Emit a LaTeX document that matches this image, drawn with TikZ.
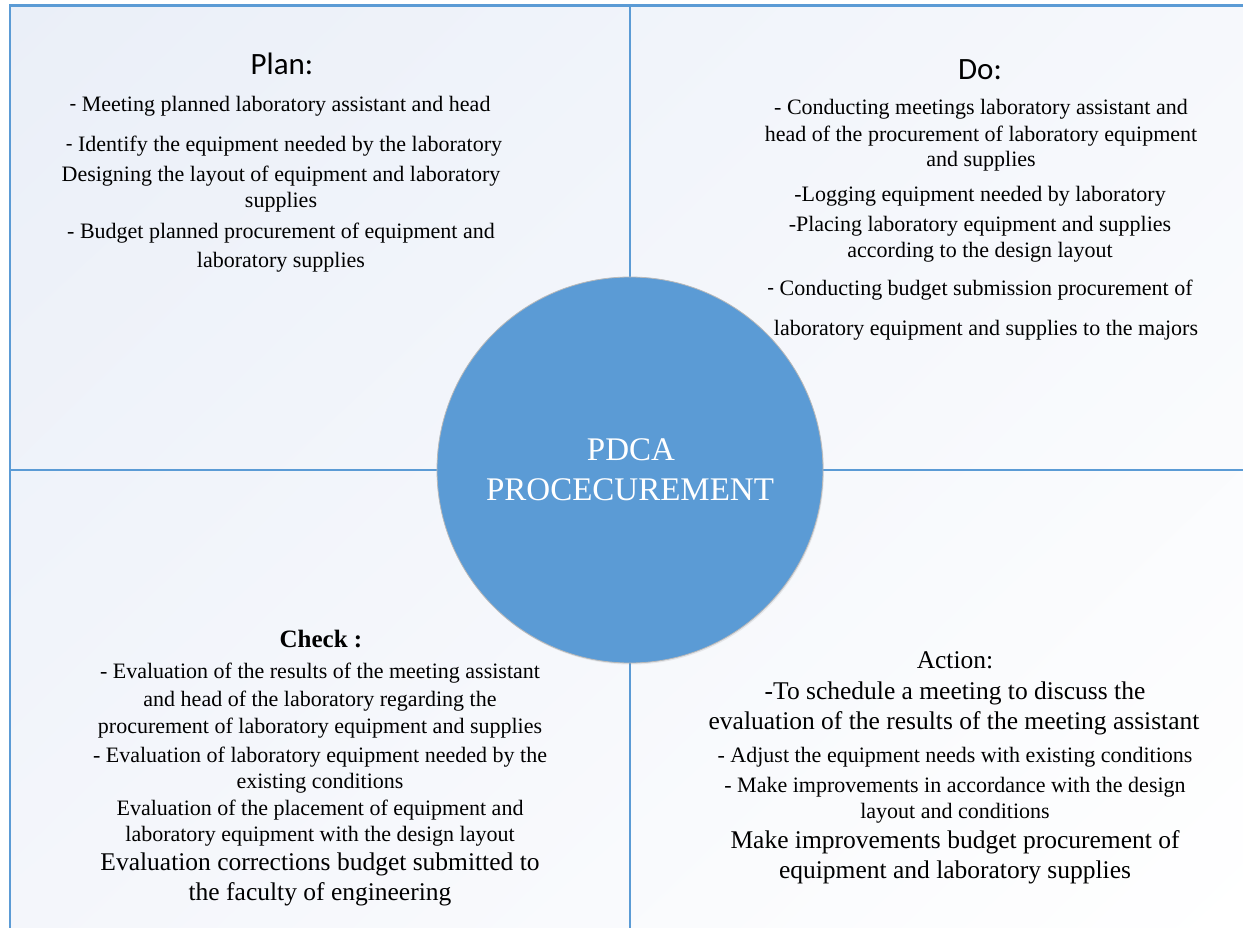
\documentclass[tikz,border=0pt]{standalone}
\usepackage{fontspec}
\setmainfont{Liberation Serif}
\newfontfamily\calibri{Carlito}
\usetikzlibrary{shadows,shadings}
\definecolor{pdcablue}{RGB}{91,155,213}
\definecolor{bgtl}{RGB}{234,239,248}
\definecolor{bgtr}{RGB}{246,248,252}
\definecolor{bgbl}{RGB}{244,246,251}
\tikzset{
  quadline/.style={draw=pdcablue, line width=2.2pt},
  head/.style={font=\calibri\fontsize{31}{36}\selectfont, anchor=base, inner sep=0pt},
  txt/.style={font=\fontsize{22}{26}\selectfont, anchor=base, inner sep=0pt},
  txtbig/.style={font=\fontsize{25.5}{30}\selectfont, anchor=base, inner sep=0pt},
  coretext/.style={font=\fontsize{33}{38}\selectfont, text=white, anchor=base, inner sep=0pt},
}
\begin{document}
\begin{tikzpicture}[x=1pt, y=-1pt]
\useasboundingbox (0,0) rectangle (1243,928);
% background and quadrants
\shade[upper left=bgtl, upper right=bgtr, lower left=bgbl, lower right=white] (10,5.5) rectangle (1243,928);
\draw[quadline] (10,928) -- (10,5.5) -- (1243,5.5);
\draw[quadline] (10,470) -- (1243,470);
\draw[quadline] (630,5.5) -- (630,928);
% centre circle
\node[circle, fill=pdcablue, draw=gray!55, line width=0.8pt, minimum size=386pt, drop shadow={opacity=0.15, shadow xshift=1pt, shadow yshift=-1.5pt}] (core) at (630,470) {};
\node[coretext] (core1) at (631,460) {PDCA};
\node[coretext] (core2) at (630,500) {PROCECUREMENT};
% plan
\node[head] (plan) at (282,75) {Plan:};
\node[txt] (plan1) at (280,112) {{\calibri -} Meeting planned laboratory assistant and head};
\node[txt] (plan2) at (284,152) {{\calibri -} Identify the equipment needed by the laboratory};
\node[txt] (plan3) at (281,182) {Designing the layout of equipment and laboratory};
\node[txt] (plan4) at (281,208) {supplies};
\node[txt] (plan5) at (281,239) {- Budget planned procurement of equipment and};
\node[txt] (plan6) at (281,268) {laboratory supplies};
% do
\node[head] (do) at (980,80) {Do:};
\node[txt] (do1) at (981,115) {- Conducting meetings laboratory assistant and};
\node[txt] (do2) at (981,142) {head of the procurement of laboratory equipment};
\node[txt] (do3) at (981,167) {and supplies};
\node[txt] (do4) at (980,202) {-Logging equipment needed by laboratory};
\node[txt] (do5) at (980,232) {-Placing laboratory equipment and supplies};
\node[txt] (do6) at (980,258) {according to the design layout};
\node[txt] (do7) at (980,295) {{\calibri -} Conducting budget submission procurement of};
\node[txt] (do8) at (986,335) {laboratory equipment and supplies to the majors};
% check
\node[txtbig, font=\bfseries\fontsize{25}{30}\selectfont] (check) at (321,647) {Check :};
\node[txt] (check1) at (320,678) {- Evaluation of the results of the meeting assistant};
\node[txt] (check2) at (320,706) {and head of the laboratory regarding the};
\node[txt] (check3) at (320,733) {procurement of laboratory equipment and supplies};
\node[txt] (check4) at (320,762) {- Evaluation of laboratory equipment needed by the};
\node[txt] (check5) at (320,788) {existing conditions};
\node[txt] (check6) at (320,815) {Evaluation of the placement of equipment and};
\node[txt] (check7) at (320,841) {laboratory equipment with the design layout};
\node[txtbig] (check8) at (320,870) {Evaluation corrections budget submitted to};
\node[txtbig] (check9) at (320,900) {the faculty of engineering};
% action
\node[txtbig] (act) at (955,668) {Action:};
\node[txtbig] (act1) at (955,699) {-To schedule a meeting to discuss the};
\node[txtbig] (act2) at (954,729) {evaluation of the results of the meeting assistant};
\node[txt] (act3) at (955,762) {- Adjust the equipment needs with existing conditions};
\node[txt] (act4) at (955,792) {- Make improvements in accordance with the design};
\node[txt] (act5) at (955,818) {layout and conditions};
\node[txtbig] (act6) at (955,848) {Make improvements budget procurement of};
\node[txtbig] (act7) at (955,878) {equipment and laboratory supplies};
\end{tikzpicture}
\end{document}
